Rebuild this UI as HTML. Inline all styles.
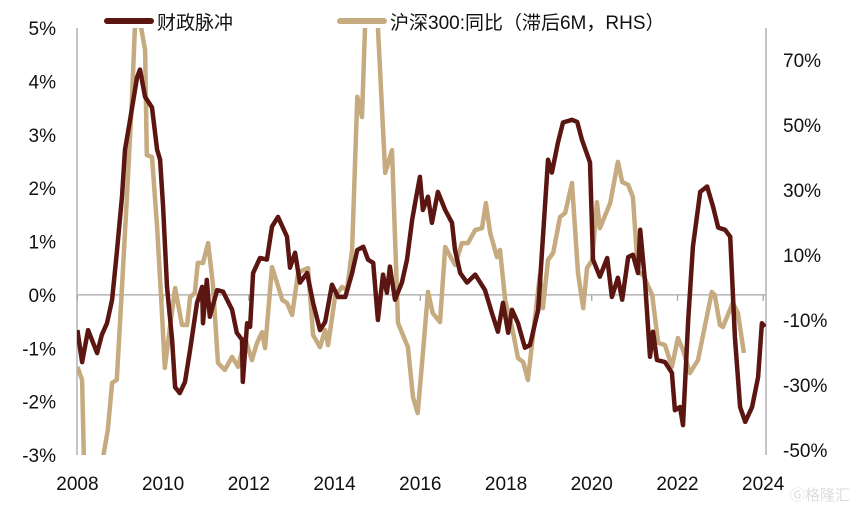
<!DOCTYPE html>
<html><head><meta charset="utf-8"><style>
html,body{margin:0;padding:0;background:#fff;}
svg{display:block;font-family:"Liberation Sans","Noto Sans CJK SC",sans-serif;}
</style></head><body>
<svg id="chart" width="861" height="509" viewBox="0 0 861 509" xmlns="http://www.w3.org/2000/svg">
<defs><clipPath id="plotclip"><rect x="77" y="28" width="689" height="427"/></clipPath></defs>
<g id="axes"></g>
<g id="series" clip-path="url(#plotclip)"></g>
<g id="legend">
 <line x1="107" y1="21" x2="151" y2="21" stroke="#5c1612" stroke-width="6" stroke-linecap="round"/>
 <text x="157" y="29" font-size="19" fill="#111">财政脉冲</text>
 <line x1="340" y1="21" x2="384" y2="21" stroke="#c6aa80" stroke-width="6" stroke-linecap="round"/>
 <text x="390" y="29" font-size="19" fill="#111">沪深300:同比（滞后6M，RHS）</text>
</g>
<text x="790" y="500" font-size="15" fill="#ddd">Ⓖ格隆汇</text>
</svg>
<script>
const fiscalYears=[2008.00,2008.11,2008.25,2008.46,2008.57,2008.69,2008.81,2008.92,2009.04,2009.11,2009.23,2009.39,2009.46,2009.58,2009.74,2009.86,2009.93,2010.00,2010.09,2010.21,2010.28,2010.39,2010.51,2010.63,2010.79,2010.91,2010.93,2011.02,2011.09,2011.26,2011.40,2011.61,2011.72,2011.84,2011.86,2011.96,2012.03,2012.10,2012.26,2012.42,2012.54,2012.68,2012.89,2012.96,2013.08,2013.19,2013.36,2013.50,2013.66,2013.78,2013.94,2014.08,2014.25,2014.41,2014.53,2014.67,2014.78,2014.90,2015.01,2015.13,2015.22,2015.29,2015.41,2015.57,2015.69,2015.81,2015.88,2015.99,2016.06,2016.18,2016.27,2016.41,2016.58,2016.74,2016.81,2016.93,2017.09,2017.28,2017.51,2017.67,2017.81,2017.93,2018.05,2018.14,2018.28,2018.44,2018.56,2018.75,2018.98,2019.07,2019.21,2019.33,2019.54,2019.66,2019.77,2019.96,2020.03,2020.19,2020.36,2020.47,2020.61,2020.71,2020.85,2020.96,2021.08,2021.13,2021.24,2021.36,2021.43,2021.52,2021.71,2021.87,2021.94,2022.06,2022.13,2022.25,2022.36,2022.53,2022.69,2022.83,2022.95,2023.11,2023.23,2023.34,2023.46,2023.58,2023.74,2023.88,2023.97,2024.04];
const fiscalValues=[-0.66,-1.26,-0.66,-1.09,-0.75,-0.53,-0.09,0.79,1.84,2.72,3.28,4.07,4.22,3.71,3.51,2.72,2.53,1.65,0.15,-0.84,-1.73,-1.84,-1.63,-1.03,-0.15,0.15,-0.53,0.28,-0.41,0.09,0.06,-0.28,-0.71,-0.84,-1.63,-0.53,-0.60,0.41,0.69,0.66,1.28,1.46,1.09,0.51,0.79,0.23,0.41,-0.15,-0.66,-0.51,0.19,-0.04,-0.04,0.41,0.84,0.90,0.66,0.60,-0.47,0.38,0.04,0.53,-0.09,0.23,0.66,1.41,1.73,2.21,1.59,1.84,1.35,1.93,1.59,1.35,0.84,0.41,0.23,0.38,0.09,-0.34,-0.69,-0.15,-0.71,-0.28,-0.53,-0.99,-0.94,-0.28,2.53,2.29,2.85,3.23,3.28,3.24,2.91,2.48,0.66,0.34,0.69,-0.04,0.32,-0.09,0.71,0.75,0.41,1.22,0.28,-1.16,-0.69,-1.22,-1.26,-1.46,-2.16,-2.10,-2.44,-0.47,0.90,1.93,2.03,1.65,1.26,1.22,1.09,-0.79,-2.10,-2.38,-2.10,-1.54,-0.53,-0.60];
const stockYears=[2008.00,2008.11,2008.15,2008.29,2008.48,2008.60,2008.71,2008.81,2008.92,2009.04,2009.16,2009.27,2009.34,2009.41,2009.51,2009.58,2009.62,2009.74,2009.86,2009.97,2010.04,2010.16,2010.28,2010.44,2010.56,2010.63,2010.74,2010.81,2010.93,2011.05,2011.16,2011.28,2011.44,2011.61,2011.75,2011.91,2012.07,2012.19,2012.31,2012.38,2012.54,2012.66,2012.78,2012.89,2013.01,2013.15,2013.27,2013.38,2013.50,2013.66,2013.78,2013.85,2014.01,2014.17,2014.29,2014.41,2014.53,2014.64,2014.71,2014.83,2014.95,2015.01,2015.18,2015.34,2015.48,2015.71,2015.83,2015.94,2016.06,2016.18,2016.29,2016.46,2016.58,2016.81,2016.97,2017.11,2017.28,2017.44,2017.53,2017.63,2017.79,2017.86,2017.98,2018.14,2018.28,2018.40,2018.51,2018.79,2018.86,2018.98,2019.10,2019.26,2019.38,2019.54,2019.68,2019.80,2019.89,2020.01,2020.12,2020.19,2020.43,2020.61,2020.71,2020.85,2020.96,2021.08,2021.20,2021.41,2021.55,2021.71,2021.87,2022.01,2022.13,2022.29,2022.48,2022.80,2022.87,2022.99,2023.06,2023.29,2023.41,2023.55];
const stockValues=[-22.9,-26.9,-50,-64,-58,-50.6,-42.3,-27.8,-26.9,1.7,30.6,58.3,80.8,87,79.8,74.6,42.3,41.7,20.2,-5.4,-23.2,-10.6,1.4,-10.0,-10.0,-1.4,-0.2,9.1,9.1,15.2,2.9,-21.7,-23.8,-19.8,-22.9,-14.0,-20.8,-15.5,-12.2,-17.1,7.8,2.9,-2.3,-3.2,-6.9,6.0,6.9,7.5,-13.1,-16.8,-11.5,-16.2,-1.4,1.7,0.8,13.1,60.2,54.0,81.4,88,88,81.7,36.8,43.8,-9.4,-16.8,-32.2,-37.1,-18.6,0.2,-6.3,-9.1,14.0,8.5,15.2,15.2,19.2,19.8,27.5,18.3,10.9,13.1,-2.3,-10.6,-20.2,-21.4,-26.9,5.4,-4.8,10.0,12.2,23.2,24.5,33.7,6.0,-4.8,7.5,10.0,27.8,19.8,27.5,40.2,34.0,33.1,29.4,6.3,5.4,-0.8,-15.5,-16.2,-22.9,-14.0,-17.7,-24.8,-20.8,0.2,-0.8,-10.0,-10.6,-3.2,-6.3,-18.6];
const leftTicks=[-3,-2,-1,0,1,2,3,4,5];
const rightTicks=[-50,-30,-10,10,30,50,70];
const xTicks=[2008,2010,2012,2014,2016,2018,2020,2022,2024];

const NS="http://www.w3.org/2000/svg";
const X0=77.4,X1=763.2,PT=28,PB=455;
function xs(y){return X0+(y-2008)*(X1-X0)/16;}
function yl(v){return PB-(v+3)*(PB-PT)/8;}
function yr(v){return PB-(v+50)*3.25;}
function mk(tag,attrs,parent){const e=document.createElementNS(NS,tag);for(const k in attrs)e.setAttribute(k,attrs[k]);parent.appendChild(e);return e;}
const axes=document.getElementById('axes'),series=document.getElementById('series');

let la=mk('line',{x1:77,y1:PT,x2:77,y2:PB,stroke:'#a6a6a6','stroke-width':1.3},axes);


let ra=mk('line',{x1:766,y1:PT,x2:766,y2:PB,stroke:'#a6a6a6','stroke-width':1.3},axes);


let zl=mk('line',{x1:77,y1:yl(0),x2:766,y2:yl(0),stroke:'#a6a6a6','stroke-width':1.3},axes);



leftTicks.forEach(v=>{const t=mk('text',{x:56,y:yl(v)+7,'font-size':19,'text-anchor':'end',fill:'#111'},axes);t.textContent=v+'%';

});
rightTicks.forEach(v=>{const t=mk('text',{x:783,y:yr(v)+2,'font-size':19,fill:'#111'},axes);t.textContent=v+'%';

});
xTicks.forEach(v=>{const tk=mk('line',{x1:xs(v),y1:yl(0),x2:xs(v),y2:yl(0)+6,stroke:'#a6a6a6','stroke-width':1.3},axes);


const t=mk('text',{x:xs(v),y:490,'font-size':19,'text-anchor':'middle',fill:'#111'},axes);t.textContent=v;

});

function path(xsArr,vals,yf){return vals.map((v,i)=>(i?'L':'M')+xs(xsArr[i]).toFixed(1)+','+yf(v).toFixed(1)).join('');}
const s2=mk('path',{d:path(stockYears,stockValues,yr),fill:'none',stroke:'#c6aa80','stroke-width':4.5,'stroke-linejoin':'round'},series);


const s1=mk('path',{d:path(fiscalYears,fiscalValues,yl),fill:'none',stroke:'#5c1612','stroke-width':4.5,'stroke-linejoin':'round'},series);


</script>
</body></html>
